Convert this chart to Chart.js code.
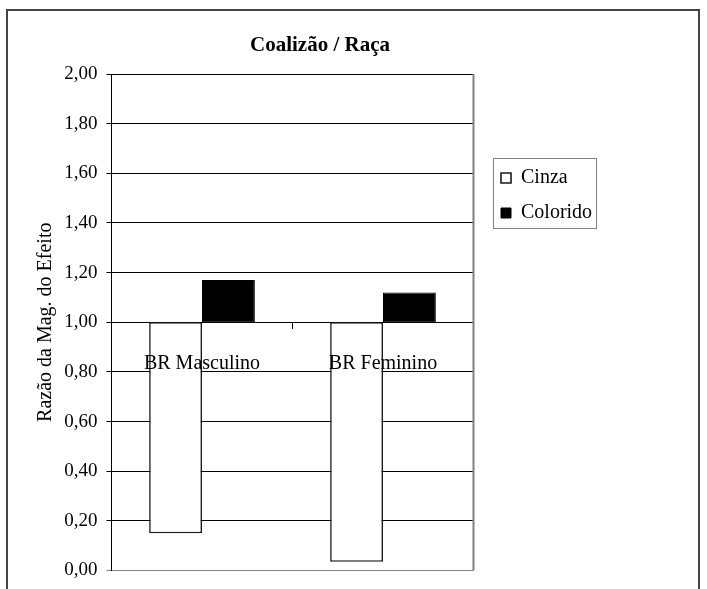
<!DOCTYPE html>
<html>
<head>
<meta charset="utf-8">
<script src="https://cdn.jsdelivr.net/npm/chart.js@4.4.0/dist/chart.umd.min.js"></script>
<style>
  html, body { margin: 0; padding: 0; background: #fff; }
  #wrap { position: absolute; left: 0; top: 0; width: 707px; height: 589px; }
  #frame { position: absolute; left: 6px; top: 9px; width: 690px; height: 600px;
           border: 2px solid #444; pointer-events: none; }
</style>
</head>
<body>
<div id="wrap"><canvas id="chart"></canvas></div>
<div id="frame"></div>
<script>
// Categories and series (effect-magnitude ratios; bars float from the 1,00 reference)
const categories = ['BR Masculino', 'BR Feminino'];
const seriesNames = ['Cinza', 'Colorido'];
const baseRatio = 1.0;
const cinzaValues = [0.15, 0.035];
const coloridoValues = [1.17, 1.12];
const yAxisTitle = 'Razão da Mag. do Efeito';
const chartTitle = 'Coalizão / Raça';

const SERIF = "'Liberation Serif', 'Times New Roman', serif";
Chart.defaults.font.family = SERIF;
Chart.defaults.color = '#000';

const fmt = v => Number(v).toFixed(2).replace('.', ',');

// Places the title and legend within the frame and outlines the legend
const blockPlacement = {
  id: 'blockPlacement',
  afterLayout(chart) {
    const a = chart.chartArea;
    const t = chart.titleBlock;
    const half = (t.right - t.left) / 2;
    const cx = a.right - 153.5;
    t.left = cx - half; t.right = cx + half;

    const lg = chart.legend;
    const left = a.right + 12.5, top = a.top + 79;
    lg.left = left; lg.top = top;
    lg.right = left + lg.width; lg.bottom = top + lg.height;
  },
  afterDraw(chart) {
    const lg = chart.legend, ctx = chart.ctx;
    ctx.save();
    ctx.strokeStyle = '#808080';
    ctx.lineWidth = 1;
    ctx.strokeRect(Math.round(lg.left + 7) + 0.5, Math.round(lg.top + 5) + 0.5, 103, 70);
    ctx.restore();
  }
};

// Gray right-hand edge of the plot area
const plotEdge = {
  id: 'plotEdge',
  beforeDatasetsDraw(chart) {
    const a = chart.chartArea, ctx = chart.ctx;
    ctx.save();
    ctx.strokeStyle = '#808080';
    ctx.lineWidth = 2;
    ctx.beginPath();
    ctx.moveTo(a.right, a.top);
    ctx.lineTo(a.right, a.bottom);
    ctx.stroke();
    ctx.restore();
  }
};

new Chart(document.getElementById('chart'), {
  type: 'bar',
  data: {
    labels: categories,
    datasets: [
      {
        label: seriesNames[0],
        data: cinzaValues.map(v => [baseRatio, v]),
        backgroundColor: '#ffffff',
        borderColor: '#1a1a1a',
        borderWidth: 1.6,
        borderSkipped: false
      },
      {
        label: seriesNames[1],
        data: coloridoValues.map(v => [baseRatio, v]),
        backgroundColor: '#000000',
        borderColor: '#000000',
        borderWidth: 1,
        borderSkipped: false
      }
    ]
  },
  options: {
    responsive: true,
    maintainAspectRatio: false,
    animation: false,
    categoryPercentage: 0.584,
    barPercentage: 1.0,
    layout: { padding: { left: 29.5, right: 233.5, top: 0, bottom: 10 } },
    plugins: {
      title: {
        display: true,
        text: chartTitle,
        font: { family: SERIF, size: 21, weight: 'bold' },
        color: '#000',
        padding: { top: 33, bottom: 15.8 }
      },
      legend: {
        position: 'chartArea',
        align: 'start',
        labels: {
          font: { family: SERIF, size: 20 },
          color: '#000',
          boxWidth: 10,
          boxHeight: 10,
          padding: 15
        }
      },
      tooltip: { enabled: false }
    },
    scales: {
      x: {
        position: { y: baseRatio },
        grid: { offset: true, drawOnChartArea: false, color: '#000', tickLength: 6 },
        border: { color: '#000', width: 1 },
        ticks: { z: 1, font: { family: SERIF, size: 20 }, color: '#000', padding: 23, maxRotation: 0 }
      },
      y: {
        min: 0,
        max: 2,
        ticks: {
          stepSize: 0.2,
          callback: v => fmt(v),
          font: { family: SERIF, size: 19, lineHeight: 1 },
          color: '#000',
          padding: 9
        },
        grid: {
          color: ctx => (ctx.tick && ctx.tick.value === 0 ? '#808080' : '#000'),
          lineWidth: 1,
          tickLength: 5
        },
        border: { color: '#000', width: 1 },
        title: {
          display: true,
          text: yAxisTitle,
          font: { family: SERIF, size: 20 },
          color: '#000',
          padding: { top: 4, bottom: 4 }
        },
        afterFit: s => { s.width = 82; }
      }
    }
  },
  plugins: [blockPlacement, plotEdge]
});
</script>
</body>
</html>
